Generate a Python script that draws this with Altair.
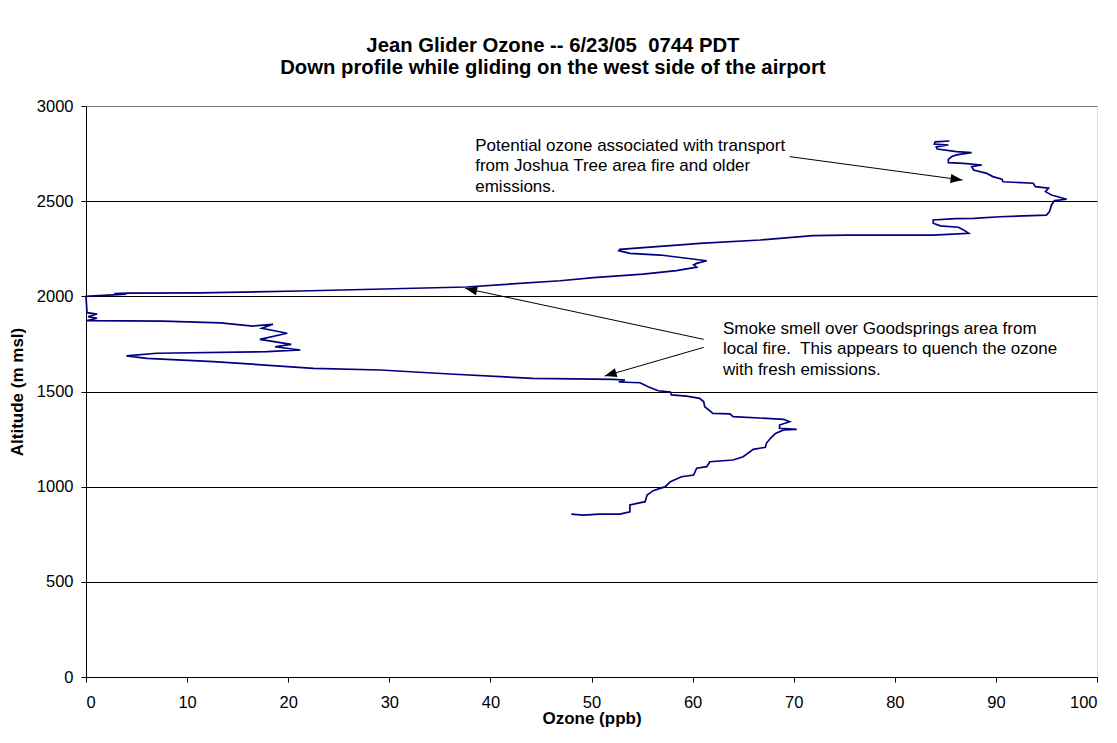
import math
import altair as alt
import pandas as pd

# ---- data ----
ozone = [85.4, 84.0, 83.9, 85.3, 84.1, 84.2, 86.1, 87.6, 86.1, 85.6,
         85.3, 85.3, 86.8, 88.6, 87.6, 87.8, 89.1, 89.7, 90.6, 90.7,
         93.7, 93.9, 95.2, 94.9, 95.5, 97.0, 95.8, 95.5, 95.3, 95.0,
         90.4, 87.8, 86.0, 83.8, 83.8, 84.5, 86.3, 86.8, 87.3, 83.8,
         75.2, 71.9, 66.7, 60.7, 58.8, 52.8, 52.7, 53.8, 56.8, 59.4,
         61.4, 60.4, 60.1, 60.4, 58.4, 55.1, 50.2, 46.9, 37.6, 21.2,
         11.3, 4.2, 2.8, 4.0, 0.0, 0.1, 1.1, 0.2, 1.1, 0.1,
         7.6, 13.3, 16.5, 18.5, 17.4, 19.9, 17.2, 20.3, 18.7, 21.2,
         17.9, 7.0, 4.0, 6.0, 12.6, 22.5, 29.1, 36.0, 44.2, 52.2,
         53.3, 52.7, 54.8, 55.6, 56.6, 57.8, 57.9, 59.4, 60.7, 61.1,
         61.2, 61.6, 62.0, 63.7, 64.0, 69.0, 69.6, 68.6, 68.6, 70.3,
         69.0, 68.2, 67.7, 67.3, 67.2, 66.0, 65.0, 64.0, 61.7, 61.4,
         60.4, 60.1, 58.9, 57.8, 57.3, 56.1, 55.5, 55.3, 53.8, 53.8,
         52.8, 50.8, 49.2, 48.0]
altitude = [2816, 2812, 2800, 2795, 2785, 2774, 2760, 2755, 2743, 2733,
            2720, 2702, 2699, 2690, 2681, 2664, 2646, 2629, 2615, 2602,
            2594, 2576, 2568, 2550, 2532, 2510, 2503, 2480, 2445, 2427,
            2418, 2410, 2408, 2401, 2384, 2370, 2363, 2349, 2331, 2322,
            2322, 2319, 2296, 2278, 2270, 2247, 2240, 2226, 2217, 2200,
            2187, 2173, 2165, 2153, 2135, 2117, 2098, 2082, 2049, 2028,
            2018, 2017, 2014, 2012, 2000, 1914, 1907, 1893, 1885, 1872,
            1870, 1861, 1844, 1853, 1832, 1806, 1774, 1748, 1735, 1718,
            1709, 1701, 1687, 1674, 1657, 1622, 1613, 1592, 1569, 1564,
            1560, 1550, 1546, 1525, 1504, 1497, 1482, 1476, 1464, 1446,
            1420, 1403, 1385, 1382, 1368, 1354, 1341, 1324, 1307, 1301,
            1298, 1280, 1254, 1228, 1207, 1196, 1157, 1140, 1131, 1105,
            1097, 1061, 1052, 1026, 1000, 979, 956, 921, 904, 868,
            856, 856, 851, 856]

x_ticks = list(range(0, 101, 10))
y_ticks = list(range(0, 3001, 500))

title_lines = ["Jean Glider Ozone -- 6/23/05\u00a0 0744 PDT",
               "Down profile while gliding on the west side of the airport"]

note_text = [
    "Potential ozone associated with transport\nfrom Joshua Tree area fire and older\nemissions.",
    "Smoke smell over Goodsprings area from\nlocal fire.\u00a0 This appears to quench the ozone\nwith fresh emissions.",
]
note_x = [38.5, 63.0]
note_y = [2833, 1872]

arrow_x1 = [69.6, 61.1, 61.1]
arrow_y1 = [2734, 1774, 1732]
arrow_x2 = [86.7, 37.5, 51.3]
arrow_y2 = [2611, 2042, 1581]

# ---- chart ----
W, H = 1011, 571
FONT = "Liberation Sans"

axis_style = dict(
    labelFont=FONT, labelFontSize=16.5, labelColor="black",
    titleFont=FONT, titleFontSize=17, titleFontWeight="bold", titleColor="black",
    domainColor="black", tickColor="black", domainWidth=1, tickWidth=1,
    tickSize=5, format="d",
)

profile = pd.DataFrame({"ozone": ozone, "altitude": altitude,
                        "idx": list(range(len(ozone)))})

xscale = alt.Scale(domain=[0, 100], nice=False, zero=False)
yscale = alt.Scale(domain=[0, 3000], nice=False, zero=False)

line = alt.Chart(profile).mark_line(color="#000080", strokeWidth=1.7).encode(
    x=alt.X("ozone:Q", scale=xscale,
            axis=alt.Axis(title="Ozone (ppb)", values=x_ticks, grid=False,
                          labelPadding=12, titlePadding=0, **axis_style)),
    y=alt.Y("altitude:Q", scale=yscale,
            axis=alt.Axis(title="Altitude (m msl)", values=y_ticks, grid=True,
                          labelPadding=8, titlePadding=10, gridWidth=1,
                          gridColor={"condition": {"test": "datum.value === 3000",
                                                   "value": "#808080"},
                                     "value": "#000000"},
                          **axis_style)),
    order="idx:Q",
)

arrows_df = pd.DataFrame({"x1": arrow_x1, "y1": arrow_y1,
                          "x2": arrow_x2, "y2": arrow_y2})
angles = []
for a, b, c, d in zip(arrow_x1, arrow_y1, arrow_x2, arrow_y2):
    dx = (c - a) * W / 100.0
    dy = -(d - b) * H / 3000.0
    angles.append(math.degrees(math.atan2(dx, -dy)) % 360)
arrows_df["angle"] = angles

rules = alt.Chart(arrows_df).mark_rule(color="black", strokeWidth=1).encode(
    x=alt.X("x1:Q", scale=xscale),
    y=alt.Y("y1:Q", scale=yscale),
    x2="x2:Q", y2="y2:Q",
)

heads = alt.Chart(arrows_df).mark_point(
    shape="M0,0 L-0.38,1 L0.38,1 Z", filled=True, size=576,
    color="black", opacity=1, strokeWidth=0,
).encode(
    x=alt.X("x2:Q", scale=xscale),
    y=alt.Y("y2:Q", scale=yscale),
    angle=alt.Angle("angle:Q", scale=None),
)

notes_df = pd.DataFrame({"x": note_x, "y": note_y, "t": note_text})
notes = alt.Chart(notes_df).mark_text(
    align="left", baseline="top", font=FONT, fontSize=17,
    lineHeight=20.5, lineBreak="\n", color="black",
).encode(
    x=alt.X("x:Q", scale=xscale),
    y=alt.Y("y:Q", scale=yscale),
    text="t:N",
)

chart = alt.layer(line, rules, heads, notes).properties(
    width=W, height=H,
    autosize="none",
    padding={"left": 78, "top": 98, "right": 12, "bottom": 58},
    title=alt.TitleParams(text=title_lines, font=FONT, fontSize=20.3,
                          fontWeight="bold", anchor="middle", frame="bounds",
                          offset=20, lineHeight=22, color="black"),
).configure_view(
    stroke="#808080", strokeWidth=1,
).configure(background="white")

chart.save("out.html", embed_options={"renderer": "svg", "actions": False})
